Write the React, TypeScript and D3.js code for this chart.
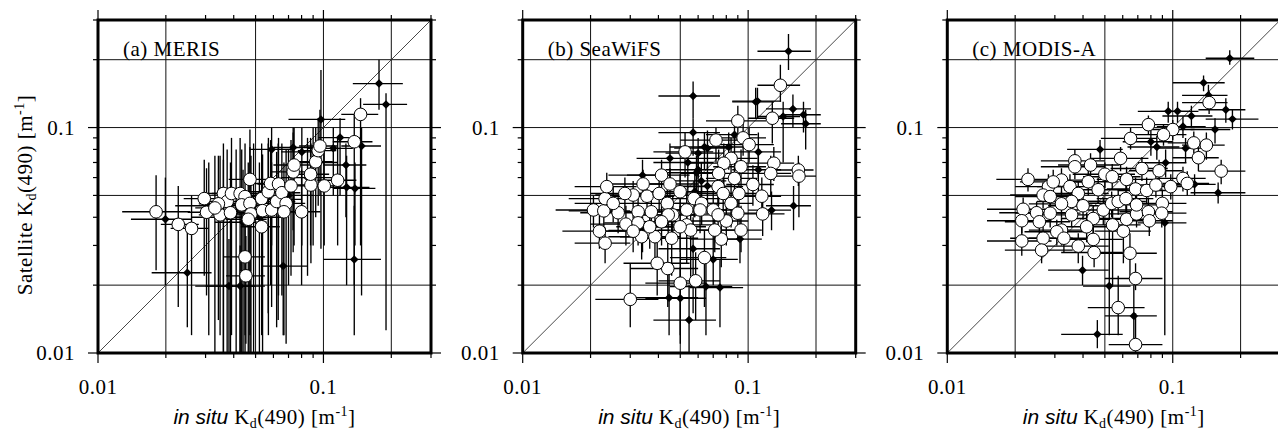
import * as d3 from "d3";

// each point: [x, y, xLow, xHigh, yLow, yHigh]
type Pt = number[];

const MERIS_CIRCLES: Pt[] = [
  [0.0181, 0.0423, 0.0128, 0.0256, 0.0233, 0.0615],
  [0.0227, 0.0372, 0.019, 0.028, 0.016, 0.055],
  [0.026, 0.0357, 0.021, 0.031, 0.012, 0.05],
  [0.0296, 0.0484, 0.024, 0.036, 0.022, 0.072],
  [0.0303, 0.0421, 0.025, 0.037, 0.018, 0.066],
  [0.0348, 0.041, 0.028, 0.043, 0.012, 0.075],
  [0.036, 0.051, 0.029, 0.045, 0.01, 0.085],
  [0.0374, 0.047, 0.031, 0.046, 0.008, 0.08],
  [0.0391, 0.051, 0.032, 0.048, 0.012, 0.09],
  [0.0387, 0.0419, 0.031, 0.047, 0.009, 0.07],
  [0.0342, 0.0459, 0.028, 0.042, 0.014, 0.075],
  [0.033, 0.044, 0.027, 0.04, 0.01, 0.075],
  [0.0427, 0.051, 0.034, 0.052, 0.01, 0.09],
  [0.0472, 0.0589, 0.038, 0.057, 0.012, 0.098],
  [0.0449, 0.0494, 0.036, 0.055, 0.008, 0.085],
  [0.0434, 0.0454, 0.035, 0.053, 0.007, 0.08],
  [0.0472, 0.0461, 0.038, 0.058, 0.009, 0.082],
  [0.0477, 0.0414, 0.039, 0.058, 0.006, 0.075],
  [0.0464, 0.0392, 0.037, 0.056, 0.008, 0.07],
  [0.0449, 0.0267, 0.036, 0.055, 0.012, 0.04],
  [0.0453, 0.022, 0.037, 0.055, 0.011, 0.033],
  [0.0532, 0.0484, 0.043, 0.064, 0.012, 0.085],
  [0.0537, 0.0428, 0.044, 0.065, 0.01, 0.076],
  [0.0532, 0.0363, 0.043, 0.064, 0.014, 0.062],
  [0.0589, 0.0431, 0.048, 0.071, 0.016, 0.07],
  [0.0569, 0.0519, 0.046, 0.069, 0.015, 0.085],
  [0.0583, 0.0565, 0.047, 0.07, 0.02, 0.088],
  [0.0632, 0.0562, 0.051, 0.076, 0.018, 0.09],
  [0.062, 0.047, 0.05, 0.075, 0.013, 0.078],
  [0.0654, 0.0514, 0.053, 0.079, 0.018, 0.085],
  [0.0683, 0.0461, 0.055, 0.083, 0.011, 0.08],
  [0.0668, 0.0423, 0.054, 0.081, 0.012, 0.07],
  [0.0718, 0.0551, 0.058, 0.087, 0.022, 0.088],
  [0.0734, 0.0636, 0.059, 0.089, 0.028, 0.095],
  [0.0741, 0.0682, 0.06, 0.09, 0.03, 0.1],
  [0.08, 0.0423, 0.065, 0.097, 0.02, 0.065],
  [0.088, 0.0556, 0.071, 0.106, 0.025, 0.085],
  [0.0877, 0.0621, 0.071, 0.106, 0.03, 0.09],
  [0.0924, 0.0705, 0.075, 0.11, 0.04, 0.1],
  [0.0948, 0.079, 0.077, 0.114, 0.045, 0.11],
  [0.0965, 0.0828, 0.078, 0.116, 0.05, 0.12],
  [0.1008, 0.0551, 0.082, 0.12, 0.03, 0.08],
  [0.1156, 0.0584, 0.094, 0.14, 0.03, 0.09],
  [0.137, 0.0865, 0.11, 0.165, 0.02, 0.115],
  [0.1461, 0.1144, 0.12, 0.175, 0.03, 0.135],
];

const MERIS_DIAMONDS: Pt[] = [
  [0.0199, 0.0392, 0.014, 0.026, 0.02, 0.06],
  [0.0249, 0.0227, 0.0173, 0.0319, 0.013, 0.035],
  [0.0381, 0.0198, 0.027, 0.05, 0.006, 0.032],
  [0.0427, 0.0198, 0.03, 0.055, 0.006, 0.03],
  [0.0663, 0.0243, 0.053, 0.085, 0.012, 0.04],
  [0.0589, 0.08, 0.047, 0.072, 0.03, 0.1],
  [0.0734, 0.0816, 0.06, 0.09, 0.035, 0.1],
  [0.0802, 0.078, 0.065, 0.1, 0.03, 0.1],
  [0.0975, 0.1087, 0.07, 0.125, 0.029, 0.18],
  [0.1185, 0.0903, 0.095, 0.145, 0.05, 0.11],
  [0.1106, 0.0809, 0.085, 0.135, 0.05, 0.1],
  [0.1258, 0.0682, 0.1, 0.155, 0.04, 0.085],
  [0.1267, 0.0543, 0.1, 0.16, 0.02, 0.075],
  [0.138, 0.0537, 0.11, 0.17, 0.03, 0.07],
  [0.1476, 0.0828, 0.12, 0.18, 0.018, 0.1],
  [0.1764, 0.1567, 0.135, 0.225, 0.12, 0.2],
  [0.1895, 0.1267, 0.15, 0.235, 0.0126, 0.142],
  [0.137, 0.026, 0.1, 0.18, 0.012, 0.045],
  [0.031, 0.045, 0.022, 0.04, 0.012, 0.07],
  [0.036, 0.04, 0.026, 0.046, 0.008, 0.072],
  [0.041, 0.043, 0.03, 0.052, 0.007, 0.08],
  [0.044, 0.038, 0.033, 0.056, 0.006, 0.065],
  [0.049, 0.045, 0.036, 0.062, 0.008, 0.085],
  [0.052, 0.04, 0.04, 0.066, 0.009, 0.07],
  [0.057, 0.05, 0.043, 0.072, 0.012, 0.09],
  [0.063, 0.048, 0.048, 0.08, 0.014, 0.085],
  [0.07, 0.05, 0.054, 0.09, 0.02, 0.08],
  [0.085, 0.06, 0.065, 0.11, 0.022, 0.09],
  [0.09, 0.07, 0.07, 0.115, 0.03, 0.1],
];

const SEAWIFS_CIRCLES: Pt[] = [
  [0.139, 0.154, 0.11, 0.17, 0.13, 0.19],
  [0.09, 0.107, 0.065, 0.12, 0.09, 0.125],
  [0.128, 0.11, 0.1, 0.16, 0.085, 0.13],
  [0.095, 0.09, 0.07, 0.12, 0.075, 0.105],
  [0.101, 0.084, 0.075, 0.13, 0.07, 0.1],
  [0.072, 0.088, 0.05, 0.095, 0.07, 0.1],
  [0.0525, 0.078, 0.038, 0.07, 0.06, 0.095],
  [0.084, 0.073, 0.06, 0.11, 0.058, 0.09],
  [0.078, 0.0695, 0.055, 0.1, 0.05, 0.085],
  [0.093, 0.067, 0.07, 0.12, 0.05, 0.08],
  [0.074, 0.0626, 0.05, 0.1, 0.045, 0.08],
  [0.087, 0.0595, 0.065, 0.11, 0.045, 0.075],
  [0.13, 0.0695, 0.1, 0.16, 0.058, 0.082],
  [0.126, 0.0626, 0.095, 0.155, 0.05, 0.075],
  [0.167, 0.0648, 0.13, 0.195, 0.055, 0.075],
  [0.168, 0.0609, 0.13, 0.2, 0.04, 0.07],
  [0.105, 0.0559, 0.08, 0.13, 0.045, 0.068],
  [0.115, 0.0496, 0.09, 0.14, 0.04, 0.06],
  [0.116, 0.0414, 0.09, 0.145, 0.033, 0.05],
  [0.093, 0.0351, 0.07, 0.115, 0.028, 0.045],
  [0.091, 0.051, 0.065, 0.115, 0.04, 0.062],
  [0.084, 0.0461, 0.06, 0.105, 0.036, 0.056],
  [0.09, 0.0417, 0.065, 0.11, 0.032, 0.052],
  [0.08, 0.0385, 0.055, 0.1, 0.03, 0.048],
  [0.076, 0.032, 0.055, 0.095, 0.024, 0.04],
  [0.064, 0.0265, 0.045, 0.08, 0.016, 0.035],
  [0.0585, 0.0209, 0.04, 0.075, 0.014, 0.028],
  [0.05, 0.0204, 0.035, 0.065, 0.012, 0.028],
  [0.044, 0.0237, 0.03, 0.06, 0.016, 0.031],
  [0.0395, 0.025, 0.028, 0.055, 0.018, 0.032],
  [0.03, 0.0173, 0.021, 0.04, 0.013, 0.025],
  [0.0232, 0.0307, 0.017, 0.03, 0.025, 0.036],
  [0.0219, 0.0347, 0.015, 0.029, 0.029, 0.042],
  [0.0206, 0.0431, 0.014, 0.028, 0.036, 0.05],
  [0.0229, 0.0427, 0.016, 0.03, 0.035, 0.05],
  [0.0232, 0.0484, 0.016, 0.031, 0.04, 0.056],
  [0.0236, 0.0547, 0.017, 0.032, 0.045, 0.063],
  [0.0265, 0.0419, 0.018, 0.035, 0.034, 0.05],
  [0.0287, 0.0373, 0.02, 0.038, 0.03, 0.045],
  [0.0309, 0.0502, 0.021, 0.041, 0.042, 0.058],
  [0.0325, 0.0423, 0.022, 0.043, 0.035, 0.05],
  [0.0325, 0.0378, 0.023, 0.043, 0.03, 0.045],
  [0.0337, 0.0328, 0.024, 0.045, 0.026, 0.04],
  [0.0342, 0.0562, 0.024, 0.045, 0.047, 0.065],
  [0.0356, 0.0496, 0.025, 0.047, 0.041, 0.058],
  [0.0386, 0.0328, 0.027, 0.05, 0.024, 0.04],
  [0.0403, 0.051, 0.028, 0.053, 0.042, 0.06],
  [0.0413, 0.0615, 0.029, 0.055, 0.05, 0.072],
  [0.0438, 0.0461, 0.031, 0.058, 0.038, 0.055],
  [0.045, 0.0562, 0.032, 0.06, 0.046, 0.066],
  [0.0458, 0.0323, 0.032, 0.06, 0.022, 0.04],
  [0.0463, 0.041, 0.033, 0.061, 0.033, 0.05],
  [0.0499, 0.0519, 0.035, 0.065, 0.042, 0.062],
  [0.0534, 0.0431, 0.038, 0.07, 0.034, 0.052],
  [0.0534, 0.037, 0.038, 0.07, 0.025, 0.046],
  [0.0556, 0.0351, 0.04, 0.072, 0.02, 0.045],
  [0.0575, 0.0484, 0.041, 0.075, 0.04, 0.058],
  [0.0622, 0.0461, 0.045, 0.08, 0.037, 0.056],
  [0.07, 0.0431, 0.05, 0.09, 0.034, 0.052],
  [0.0736, 0.0547, 0.052, 0.095, 0.045, 0.065],
  [0.0736, 0.041, 0.052, 0.095, 0.032, 0.05],
  [0.0775, 0.051, 0.055, 0.1, 0.042, 0.06],
  [0.0711, 0.0351, 0.05, 0.09, 0.028, 0.043],
  [0.0499, 0.0363, 0.035, 0.065, 0.028, 0.045],
  [0.0366, 0.0363, 0.026, 0.048, 0.029, 0.044],
  [0.0309, 0.0347, 0.022, 0.04, 0.028, 0.042],
  [0.0284, 0.051, 0.02, 0.037, 0.043, 0.06],
  [0.0252, 0.0461, 0.017, 0.033, 0.038, 0.055],
  [0.0442, 0.041, 0.031, 0.058, 0.033, 0.05],
  [0.0413, 0.0382, 0.029, 0.055, 0.03, 0.047],
  [0.0612, 0.0431, 0.044, 0.08, 0.034, 0.052],
  [0.0372, 0.0423, 0.026, 0.049, 0.034, 0.051],
];

const SEAWIFS_DIAMONDS: Pt[] = [
  [0.151, 0.218, 0.11, 0.19, 0.18, 0.26],
  [0.057, 0.138, 0.04, 0.075, 0.11, 0.16],
  [0.11, 0.131, 0.085, 0.14, 0.11, 0.15],
  [0.108, 0.13, 0.085, 0.13, 0.11, 0.15],
  [0.158, 0.121, 0.12, 0.19, 0.1, 0.14],
  [0.176, 0.114, 0.14, 0.21, 0.095, 0.13],
  [0.18, 0.104, 0.14, 0.21, 0.08, 0.12],
  [0.143, 0.112, 0.11, 0.17, 0.07, 0.13],
  [0.057, 0.095, 0.04, 0.075, 0.075, 0.11],
  [0.064, 0.082, 0.045, 0.085, 0.065, 0.095],
  [0.045, 0.073, 0.032, 0.06, 0.055, 0.085],
  [0.054, 0.07, 0.038, 0.07, 0.05, 0.082],
  [0.06, 0.065, 0.043, 0.078, 0.05, 0.077],
  [0.06, 0.077, 0.043, 0.078, 0.06, 0.09],
  [0.066, 0.081, 0.047, 0.085, 0.065, 0.097],
  [0.082, 0.082, 0.06, 0.1, 0.065, 0.095],
  [0.087, 0.093, 0.065, 0.11, 0.075, 0.11],
  [0.111, 0.078, 0.085, 0.14, 0.06, 0.095],
  [0.111, 0.065, 0.085, 0.14, 0.05, 0.08],
  [0.127, 0.043, 0.1, 0.155, 0.035, 0.052],
  [0.159, 0.045, 0.12, 0.19, 0.035, 0.055],
  [0.062, 0.058, 0.045, 0.08, 0.045, 0.07],
  [0.066, 0.055, 0.048, 0.085, 0.042, 0.068],
  [0.059, 0.063, 0.042, 0.076, 0.05, 0.075],
  [0.058, 0.052, 0.042, 0.075, 0.04, 0.065],
  [0.034, 0.0615, 0.024, 0.045, 0.05, 0.072],
  [0.034, 0.035, 0.024, 0.045, 0.028, 0.042],
  [0.092, 0.032, 0.07, 0.115, 0.025, 0.04],
  [0.057, 0.029, 0.04, 0.075, 0.015, 0.04],
  [0.07, 0.026, 0.05, 0.09, 0.02, 0.035],
  [0.065, 0.0197, 0.045, 0.085, 0.012, 0.028],
  [0.075, 0.0195, 0.055, 0.095, 0.013, 0.026],
  [0.0446, 0.0176, 0.03, 0.06, 0.012, 0.024],
  [0.05, 0.0175, 0.035, 0.065, 0.011, 0.024],
  [0.0547, 0.014, 0.038, 0.072, 0.009, 0.02],
];

const MODIS_CIRCLES: Pt[] = [
  [0.145, 0.129, 0.11, 0.175, 0.115, 0.145],
  [0.1, 0.098, 0.075, 0.125, 0.088, 0.108],
  [0.091, 0.093, 0.068, 0.115, 0.083, 0.103],
  [0.078, 0.103, 0.058, 0.1, 0.093, 0.113],
  [0.065, 0.0895, 0.048, 0.085, 0.08, 0.1],
  [0.124, 0.0855, 0.095, 0.15, 0.076, 0.096],
  [0.141, 0.0836, 0.11, 0.17, 0.072, 0.095],
  [0.13, 0.0735, 0.1, 0.16, 0.064, 0.083],
  [0.164, 0.0641, 0.13, 0.21, 0.056, 0.072],
  [0.111, 0.0595, 0.085, 0.14, 0.052, 0.067],
  [0.116, 0.0565, 0.09, 0.145, 0.05, 0.064],
  [0.098, 0.0547, 0.073, 0.125, 0.048, 0.062],
  [0.087, 0.0643, 0.064, 0.11, 0.056, 0.072],
  [0.073, 0.0658, 0.053, 0.095, 0.058, 0.074],
  [0.0587, 0.073, 0.043, 0.078, 0.064, 0.082],
  [0.05, 0.0621, 0.036, 0.068, 0.054, 0.07],
  [0.0432, 0.0682, 0.031, 0.058, 0.06, 0.077],
  [0.0368, 0.0712, 0.026, 0.05, 0.063, 0.08],
  [0.0368, 0.067, 0.026, 0.05, 0.059, 0.075],
  [0.0228, 0.0589, 0.0165, 0.0306, 0.052, 0.066],
  [0.0321, 0.0585, 0.023, 0.044, 0.051, 0.066],
  [0.035, 0.0547, 0.025, 0.048, 0.048, 0.062],
  [0.0422, 0.0575, 0.03, 0.057, 0.05, 0.065],
  [0.0467, 0.053, 0.033, 0.063, 0.046, 0.06],
  [0.0281, 0.0547, 0.02, 0.038, 0.048, 0.062],
  [0.0295, 0.0574, 0.021, 0.04, 0.05, 0.065],
  [0.0266, 0.0502, 0.019, 0.036, 0.044, 0.057],
  [0.0286, 0.0494, 0.02, 0.039, 0.043, 0.056],
  [0.0381, 0.051, 0.027, 0.052, 0.045, 0.058],
  [0.0356, 0.047, 0.025, 0.048, 0.041, 0.053],
  [0.0217, 0.0434, 0.015, 0.029, 0.038, 0.049],
  [0.0249, 0.0419, 0.017, 0.034, 0.037, 0.047],
  [0.0214, 0.0386, 0.015, 0.029, 0.034, 0.043],
  [0.0256, 0.0382, 0.018, 0.035, 0.033, 0.043],
  [0.0286, 0.0417, 0.02, 0.039, 0.036, 0.047],
  [0.0321, 0.0459, 0.023, 0.044, 0.04, 0.052],
  [0.0321, 0.0351, 0.023, 0.044, 0.03, 0.04],
  [0.0306, 0.0345, 0.022, 0.042, 0.03, 0.039],
  [0.0356, 0.041, 0.025, 0.048, 0.036, 0.046],
  [0.04, 0.045, 0.028, 0.054, 0.039, 0.051],
  [0.0444, 0.0395, 0.032, 0.06, 0.034, 0.045],
  [0.0415, 0.0363, 0.03, 0.056, 0.031, 0.042],
  [0.0492, 0.0431, 0.035, 0.066, 0.037, 0.049],
  [0.0214, 0.0314, 0.015, 0.029, 0.027, 0.036],
  [0.0266, 0.0323, 0.019, 0.036, 0.028, 0.037],
  [0.0262, 0.0286, 0.018, 0.036, 0.025, 0.033],
  [0.0329, 0.0323, 0.023, 0.045, 0.028, 0.037],
  [0.0381, 0.0298, 0.027, 0.052, 0.025, 0.034],
  [0.0444, 0.0319, 0.032, 0.06, 0.027, 0.037],
  [0.0448, 0.0279, 0.032, 0.06, 0.024, 0.032],
  [0.0539, 0.0605, 0.04, 0.072, 0.053, 0.069],
  [0.0536, 0.0461, 0.039, 0.072, 0.04, 0.052],
  [0.0573, 0.047, 0.042, 0.076, 0.041, 0.053],
  [0.0541, 0.037, 0.04, 0.072, 0.02, 0.045],
  [0.0604, 0.0347, 0.045, 0.08, 0.025, 0.04],
  [0.0624, 0.0392, 0.046, 0.082, 0.033, 0.045],
  [0.062, 0.0484, 0.046, 0.082, 0.042, 0.055],
  [0.0624, 0.0589, 0.046, 0.082, 0.052, 0.067],
  [0.0691, 0.0414, 0.052, 0.09, 0.036, 0.047],
  [0.0691, 0.0454, 0.052, 0.09, 0.04, 0.051],
  [0.0684, 0.0534, 0.051, 0.09, 0.047, 0.06],
  [0.078, 0.0423, 0.058, 0.1, 0.036, 0.049],
  [0.0787, 0.0386, 0.059, 0.1, 0.033, 0.045],
  [0.0766, 0.0526, 0.057, 0.1, 0.046, 0.06],
  [0.0842, 0.0556, 0.063, 0.11, 0.049, 0.063],
  [0.0899, 0.0461, 0.067, 0.115, 0.04, 0.053],
  [0.0894, 0.0417, 0.067, 0.115, 0.036, 0.048],
  [0.0646, 0.0277, 0.048, 0.085, 0.022, 0.034],
  [0.0684, 0.0214, 0.05, 0.09, 0.019, 0.025],
  [0.0573, 0.0159, 0.042, 0.075, 0.012, 0.022],
  [0.0684, 0.0109, 0.052, 0.09, 0.01, 0.015],
];

const MODIS_DIAMONDS: Pt[] = [
  [0.179, 0.203, 0.14, 0.23, 0.19, 0.22],
  [0.137, 0.158, 0.1, 0.17, 0.145, 0.17],
  [0.144, 0.139, 0.11, 0.175, 0.125, 0.155],
  [0.172, 0.12, 0.13, 0.21, 0.105, 0.135],
  [0.184, 0.109, 0.14, 0.24, 0.098, 0.12],
  [0.154, 0.098, 0.12, 0.18, 0.085, 0.11],
  [0.114, 0.081, 0.085, 0.14, 0.07, 0.09],
  [0.121, 0.1125, 0.09, 0.15, 0.1, 0.125],
  [0.0955, 0.118, 0.07, 0.12, 0.105, 0.13],
  [0.105, 0.118, 0.08, 0.13, 0.105, 0.13],
  [0.111, 0.101, 0.085, 0.14, 0.09, 0.112],
  [0.0476, 0.08, 0.034, 0.06, 0.072, 0.088],
  [0.125, 0.056, 0.095, 0.155, 0.05, 0.062],
  [0.159, 0.0514, 0.12, 0.21, 0.046, 0.057],
  [0.08, 0.0865, 0.06, 0.1, 0.075, 0.097],
  [0.085, 0.082, 0.063, 0.107, 0.072, 0.092],
  [0.093, 0.0698, 0.07, 0.115, 0.06, 0.08],
  [0.0922, 0.0378, 0.07, 0.115, 0.012, 0.042],
  [0.0398, 0.0233, 0.028, 0.052, 0.02, 0.027],
  [0.0523, 0.0198, 0.04, 0.065, 0.012, 0.045],
  [0.0672, 0.0146, 0.05, 0.085, 0.011, 0.02],
  [0.0463, 0.0121, 0.032, 0.06, 0.0105, 0.014],
];

const PANEL_LABELS = ["(a) MERIS", "(b) SeaWiFS", "(c) MODIS-A"];
const DOMAIN = [0.01, 0.3];
const MAJOR_TICKS = [0.01, 0.1];
const MAJOR_LABELS = ["0.01", "0.1"];
const MINOR_TICKS = [0.02, 0.03, 0.04, 0.05, 0.06, 0.07, 0.08, 0.09, 0.2, 0.3];
const GRID_VALUES = [0.02, 0.05, 0.1, 0.2];

const PANEL_LEFTS = [98, 522.7, 947.3];
const TOP = 20;
const SIZE = 333;
const SERIF = "'Liberation Serif', 'Times New Roman', serif";

function Title({ x, y, rotate = false, italicPart, rest }) {
  return (
    <text
      transform={`translate(${x},${y})${rotate ? " rotate(-90)" : ""}`}
      textAnchor="middle"
      fontSize={21}
      letterSpacing={0.5}
      fontFamily={SERIF}
    >
      {italicPart ? (
        <tspan fontFamily="'Liberation Sans', Arial, sans-serif" fontStyle="italic" letterSpacing={0}>
          {italicPart}
        </tspan>
      ) : null}
      <tspan>{rest}K</tspan>
      <tspan dy={4} fontSize={14}>d</tspan>
      <tspan dy={-4}>(490) [m</tspan>
      <tspan dy={-8} fontSize={14}>-1</tspan>
      <tspan dy={8}>]</tspan>
    </text>
  );
}

function Panel({ index, left, label, circles, diamonds }) {
  const x = d3.scaleLog().domain(DOMAIN).range([left, left + SIZE]);
  const y = d3.scaleLog().domain(DOMAIN).range([TOP + SIZE, TOP]);
  const bottom = TOP + SIZE;
  const right = left + SIZE;
  const clipId = `clip-${index}`;
  const all = [...diamonds, ...circles];
  const diamond = d3.symbol(d3.symbolDiamond2, 46)();

  return (
    <g>
      <defs>
        <clipPath id={clipId}>
          <rect x={left} y={TOP} width={SIZE} height={SIZE} />
        </clipPath>
      </defs>
      <rect x={left} y={TOP} width={SIZE} height={SIZE} fill="#fff" />
      <g stroke="#111" strokeWidth={1}>
        {GRID_VALUES.map((v) => (
          <g key={v}>
            <line x1={x(v)} x2={x(v)} y1={TOP} y2={bottom} />
            <line x1={left} x2={right} y1={y(v)} y2={y(v)} />
          </g>
        ))}
      </g>
      <line
        x1={x(DOMAIN[0])}
        y1={y(DOMAIN[0])}
        x2={x(DOMAIN[1])}
        y2={y(DOMAIN[1])}
        stroke="#333"
        strokeWidth={0.9}
      />
      <g clipPath={`url(#${clipId})`} stroke="#000" strokeWidth={1.35}>
        {all.map((d, i) => (
          <g key={i}>
            <line x1={x(d[2])} x2={x(d[3])} y1={y(d[1])} y2={y(d[1])} />
            <line x1={x(d[0])} x2={x(d[0])} y1={y(d[4])} y2={y(d[5])} />
          </g>
        ))}
      </g>
      <g fill="#000">
        {diamonds.map((d, i) => (
          <path key={i} d={diamond} transform={`translate(${x(d[0])},${y(d[1])})`} />
        ))}
      </g>
      <g fill="#fff" stroke="#000" strokeWidth={1}>
        {circles.map((d, i) => (
          <circle key={i} cx={x(d[0])} cy={y(d[1])} r={6.3} />
        ))}
      </g>
      <rect x={left} y={TOP} width={SIZE} height={SIZE} fill="none" stroke="#000" strokeWidth={3} />
      <g stroke="#000" strokeWidth={1.2}>
        {MAJOR_TICKS.map((v) => (
          <g key={v}>
            <line x1={x(v)} x2={x(v)} y1={bottom} y2={bottom + 10} />
            <line x1={x(v)} x2={x(v)} y1={TOP} y2={TOP - 10} />
            <line x1={left} x2={left - 10} y1={y(v)} y2={y(v)} />
            <line x1={right} x2={right + 10} y1={y(v)} y2={y(v)} />
          </g>
        ))}
        {MINOR_TICKS.map((v) => (
          <g key={v}>
            <line x1={x(v)} x2={x(v)} y1={bottom} y2={bottom + 5} />
            <line x1={x(v)} x2={x(v)} y1={TOP} y2={TOP - 5} />
            <line x1={left} x2={left - 5} y1={y(v)} y2={y(v)} />
            <line x1={right} x2={right + 5} y1={y(v)} y2={y(v)} />
          </g>
        ))}
      </g>
      <g fontSize={21} fontFamily={SERIF} letterSpacing={0.5}>
        {MAJOR_TICKS.map((v, i) => (
          <text key={"x" + v} x={x(v)} y={394} textAnchor="middle">
            {MAJOR_LABELS[i]}
          </text>
        ))}
        {MAJOR_TICKS.map((v, i) => (
          <text key={"y" + v} x={left - 23} y={y(v) + 7} textAnchor="end">
            {MAJOR_LABELS[i]}
          </text>
        ))}
        <text x={left + 25} y={TOP + 36}>{label}</text>
      </g>
      <Title x={left + SIZE / 2} y={424} italicPart="in situ " rest="" />
      {index === 0 ? <Title x={32} y={195} rotate italicPart={null} rest="Satellite " /> : null}
    </g>
  );
}

const PANELS = [
  { label: PANEL_LABELS[0], circles: MERIS_CIRCLES, diamonds: MERIS_DIAMONDS },
  { label: PANEL_LABELS[1], circles: SEAWIFS_CIRCLES, diamonds: SEAWIFS_DIAMONDS },
  { label: PANEL_LABELS[2], circles: MODIS_CIRCLES, diamonds: MODIS_DIAMONDS },
];

export default function App() {
  return (
    <svg
      width={1278}
      height={432}
      style={{ position: "absolute", left: 0, top: 0, background: "#fff" }}
    >
      {PANELS.map((p, i) => (
        <Panel key={i} index={i} left={PANEL_LEFTS[i]} {...p} />
      ))}
    </svg>
  );
}
